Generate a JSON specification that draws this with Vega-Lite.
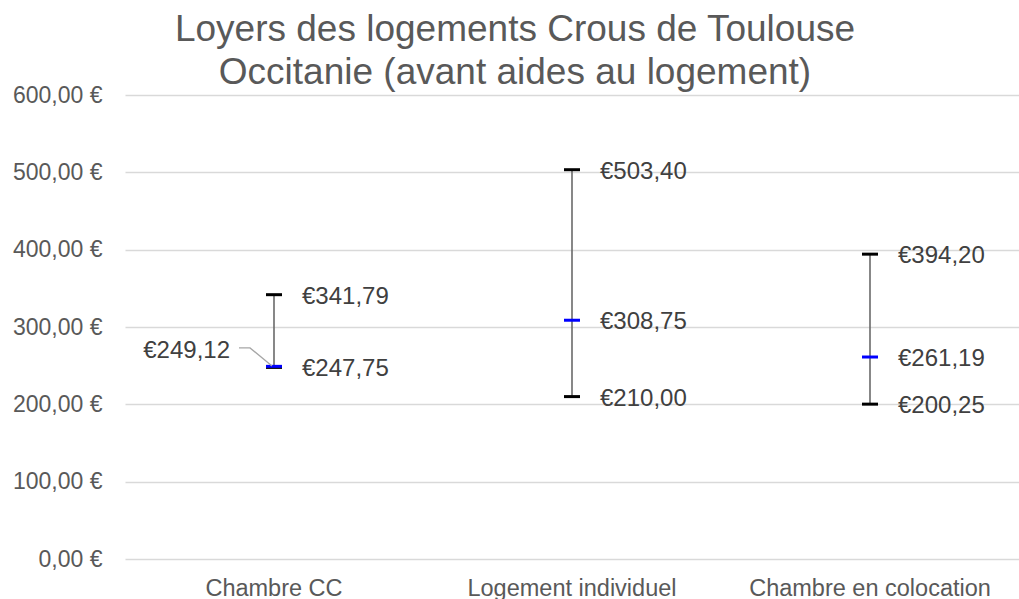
{
  "$schema": "https://vega.github.io/schema/vega-lite/v6.json",
  "autosize": "none",
  "width": 894,
  "height": 464,
  "padding": {"left": 125, "top": 95, "right": 0, "bottom": 40},
  "background": "white",
  "title": {
    "text": ["Loyers des logements Crous de Toulouse", "Occitanie (avant aides au logement)"],
    "font": "Liberation Sans",
    "fontSize": 37,
    "fontWeight": "normal",
    "color": "#595959",
    "lineHeight": 43,
    "anchor": "middle",
    "frame": "group",
    "dx": -57,
    "offset": -8
  },
  "config": {
    "locale": {"number": {"decimal": ",", "thousands": " ", "grouping": [3], "currency": ["€", ""]}},
    "view": {"stroke": null},
    "font": "Liberation Sans"
  },
  "datasets": {
    "rents": [
      {"cat": "Chambre CC", "min": 247.75, "max": 341.79, "mid": 249.12},
      {"cat": "Logement individuel", "min": 210.00, "max": 503.40, "mid": 308.75},
      {"cat": "Chambre en colocation", "min": 200.25, "max": 394.20, "mid": 261.19}
    ],
    "leader": [
      {"cat": "Chambre CC", "i": 1, "off": -35, "v": 273},
      {"cat": "Chambre CC", "i": 2, "off": -24, "v": 273},
      {"cat": "Chambre CC", "i": 3, "off": -2, "v": 249.6}
    ]
  },
  "data": {"name": "rents"},
  "encoding": {
    "x": {
      "field": "cat",
      "type": "nominal",
      "sort": null,
      "scale": {"paddingInner": 0, "paddingOuter": 0},
      "axis": {
        "title": null,
        "labelAngle": 0,
        "labelFont": "Liberation Sans",
        "labelFontSize": 23.5,
        "labelColor": "#595959",
        "labelPadding": 17,
        "labelLimit": 0,
        "ticks": false,
        "domain": false,
        "grid": false
      }
    }
  },
  "layer": [
    {
      "mark": {"type": "rule", "color": "#6a6a6a", "strokeWidth": 1.6},
      "encoding": {
        "y": {
          "field": "min",
          "type": "quantitative",
          "scale": {"domain": [0, 600], "nice": false},
          "axis": {
            "title": null,
            "values": [0, 100, 200, 300, 400, 500, 600],
            "format": ".2f",
            "labelExpr": "datum.label + ' €'",
            "labelFont": "Liberation Sans",
            "labelFontSize": 23,
            "labelColor": "#595959",
            "labelPadding": 23,
            "ticks": false,
            "domain": false,
            "grid": true,
            "gridColor": "#d9d9d9",
            "gridWidth": 1.3
          }
        },
        "y2": {"field": "max"}
      }
    },
    {
      "mark": {"type": "tick", "color": "#000000", "opacity": 1, "size": 16, "thickness": 3},
      "encoding": {"y": {"field": "max", "type": "quantitative"}}
    },
    {
      "mark": {"type": "tick", "color": "#000000", "opacity": 1, "size": 16, "thickness": 3},
      "encoding": {"y": {"field": "min", "type": "quantitative"}}
    },
    {
      "mark": {"type": "tick", "color": "#0000ff", "opacity": 1, "size": 16, "thickness": 3},
      "encoding": {"y": {"field": "mid", "type": "quantitative"}}
    },
    {
      "mark": {"type": "text", "align": "left", "baseline": "middle", "dx": 28, "dy": 2, "fontSize": 24, "color": "#404040", "font": "Liberation Sans"},
      "encoding": {
        "y": {"field": "max", "type": "quantitative"},
        "text": {"field": "max", "type": "quantitative", "format": "$.2f"}
      }
    },
    {
      "mark": {"type": "text", "align": "left", "baseline": "middle", "dx": 28, "dy": 2, "fontSize": 24, "color": "#404040", "font": "Liberation Sans"},
      "encoding": {
        "y": {"field": "min", "type": "quantitative"},
        "text": {"field": "min", "type": "quantitative", "format": "$.2f"}
      }
    },
    {
      "transform": [{"filter": "datum.cat != 'Chambre CC'"}],
      "mark": {"type": "text", "align": "left", "baseline": "middle", "dx": 28, "dy": 2, "fontSize": 24, "color": "#404040", "font": "Liberation Sans"},
      "encoding": {
        "y": {"field": "mid", "type": "quantitative"},
        "text": {"field": "mid", "type": "quantitative", "format": "$.2f"}
      }
    },
    {
      "transform": [{"filter": "datum.cat == 'Chambre CC'"}],
      "mark": {"type": "text", "align": "right", "baseline": "middle", "dx": -44, "dy": -15, "fontSize": 24, "color": "#404040", "font": "Liberation Sans"},
      "encoding": {
        "y": {"field": "mid", "type": "quantitative"},
        "text": {"field": "mid", "type": "quantitative", "format": "$.2f"}
      }
    },
    {
      "data": {"name": "leader"},
      "mark": {"type": "line", "color": "#a6a6a6", "strokeWidth": 1.3},
      "encoding": {
        "xOffset": {"field": "off", "type": "quantitative", "scale": {"domain": [-149, 149], "range": [0, 298]}},
        "y": {"field": "v", "type": "quantitative"},
        "order": {"field": "i", "type": "quantitative"}
      }
    }
  ]
}
